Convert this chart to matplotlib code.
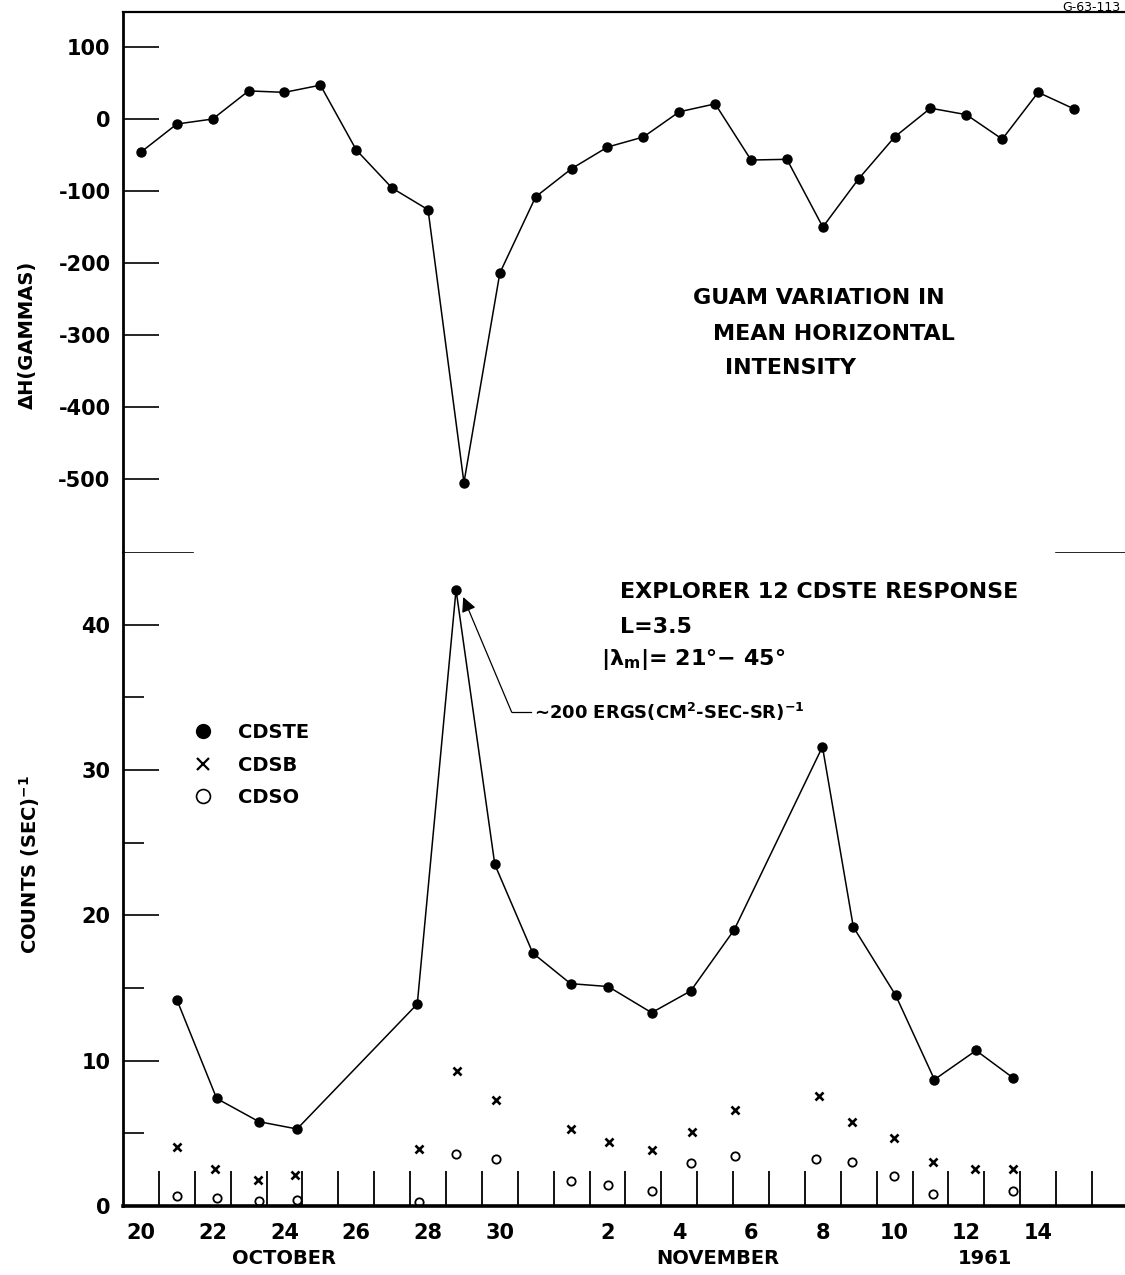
import matplotlib
matplotlib.use('Agg')
import matplotlib.pyplot as plt
from matplotlib.lines import Line2D
from matplotlib.transforms import blended_transform_factory

plt.rcParams['font.family'] = ['DejaVu Sans']
plt.rcParams['font.weight'] = 'bold'
plt.rcParams['mathtext.default'] = 'bf'

# ---- data (day numbers: Oct 20 = 20, Nov 1 = 32) ----
guam_days = list(range(20, 47))
guam_dH = [-46, -7, 0, 39, 37, 47, -43, -96, -126, -505, -214, -108, -69, -39,
           -25, 10, 21, -57, -56, -150, -83, -25, 15, 6, -28, 37, 14]

cdste_t = [21.0, 22.11, 23.29, 24.35, 27.70, 28.78, 29.86, 30.92, 31.97, 33.02,
           34.23, 35.32, 36.53, 38.99, 39.85, 41.03, 42.11, 43.27, 44.31]
cdste_v = [14.2, 7.4, 5.8, 5.3, 13.9, 42.4, 23.5, 17.4, 15.3, 15.1,
           13.3, 14.8, 19.0, 31.6, 19.2, 14.5, 8.7, 10.7, 8.8]

cdsb_t = [21.0, 22.07, 23.27, 24.29, 27.75, 28.80, 29.88, 31.97, 33.04, 34.23,
          35.35, 36.55, 38.88, 39.82, 40.97, 42.08, 43.24, 44.29]
cdsb_v = [4.05, 2.55, 1.8, 2.1, 3.9, 9.3, 7.3, 5.3, 4.4, 3.85,
          5.1, 6.6, 7.6, 5.8, 4.7, 3.0, 2.55, 2.55]

cdso_t = [21.0, 22.11, 23.29, 24.35, 27.75, 28.78, 29.88, 31.97, 33.02, 34.23,
          35.32, 36.55, 38.82, 39.82, 40.97, 42.08, 44.29]
cdso_v = [0.7, 0.55, 0.35, 0.4, 0.25, 3.6, 3.25, 1.7, 1.45, 1.0,
          2.95, 3.45, 3.25, 3.0, 2.05, 0.8, 1.05]

day_label_pos = [20, 22, 24, 26, 28, 30, 33, 35, 37, 39, 41, 43, 45]
day_labels = ['20', '22', '24', '26', '28', '30', '2', '4', '6', '8', '10', '12', '14']
day_boundaries = [20.5 + i for i in range(27)]

dH_ticks = [100, 0, -100, -200, -300, -400, -500]
count_ticks = [0, 10, 20, 30, 40]
count_minor = [5, 15, 25, 35]

W, H = 1125, 1275
fig = plt.figure(figsize=(W / 100, H / 100), dpi=100)
left = 123 / W
ax1 = fig.add_axes([left, 1 - 552 / H, 1 - left, (552 - 12) / H])
ax2 = fig.add_axes([left, 1 - 1206 / H, 1 - left, (1206 - 552) / H])

XL = (19.5, 47.42)

# ---- top panel ----
ax1.plot(guam_days, guam_dH, color='black', lw=1.1, marker='o', ms=6.5, clip_on=False)
ax1.set_xlim(*XL)
ax1.set_ylim(-601.4, 148.6)
ax1.spines['right'].set_visible(False)
ax1.spines['bottom'].set_visible(False)
ax1.spines['top'].set_linewidth(1.6)
ax1.spines['left'].set_linewidth(2.0)
ax1.set_xticks([])
ax1.set_yticks(dH_ticks)
ax1.set_yticklabels([str(v) for v in dH_ticks])
ax1.tick_params(axis='y', direction='in', length=26, width=1.2, pad=9, labelsize=15)

ax1.text(35.38, -248.6, 'GUAM VARIATION IN', fontsize=16, ha='left', va='center')
ax1.text(35.94, -298.6, 'MEAN HORIZONTAL', fontsize=16, ha='left', va='center')
ax1.text(36.27, -345.8, 'INTENSITY', fontsize=16, ha='left', va='center')

# ---- bottom panel ----
ax2.plot(cdste_t, cdste_v, color='black', lw=1.1, marker='o', ms=6.5)
ax2.plot(cdsb_t, cdsb_v, ls='none', marker='x', ms=6, mew=1.9, color='black')
ax2.plot(cdso_t, cdso_v, ls='none', marker='o', ms=6, mew=1.3,
         markerfacecolor='white', markeredgecolor='black')
ax2.set_xlim(*XL)
ax2.set_ylim(0, 45)
ax2.spines['right'].set_visible(False)
ax2.spines['top'].set_visible(False)
ax2.spines['bottom'].set_linewidth(2.6)
ax2.spines['left'].set_linewidth(2.0)

ax2.set_yticks(count_ticks)
ax2.set_yticklabels([str(v) for v in count_ticks])
ax2.set_yticks(count_minor, minor=True)
ax2.tick_params(axis='y', which='major', direction='in', length=26, width=1.2, pad=9, labelsize=15)
ax2.tick_params(axis='y', which='minor', direction='in', length=15, width=1.2)
ax2.axhline(45, xmin=0, xmax=70 / 1002, color='black', lw=1.2)
ax2.axhline(45, xmin=(1056 - 123) / 1002, xmax=1, color='black', lw=1.2)

ax2.set_xticks(day_boundaries)
ax2.set_xticklabels([''] * len(day_boundaries))
ax2.set_xticks(day_label_pos, minor=True)
ax2.set_xticklabels(day_labels, minor=True)
ax2.tick_params(axis='x', which='major', direction='in', length=25, width=1.3)
ax2.tick_params(axis='x', which='minor', length=0, pad=12, labelsize=15)

trans = blended_transform_factory(ax2.transData, ax2.transAxes)
ax2.text(24.0, -0.08, 'OCTOBER', transform=trans, fontsize=14, ha='center', va='center')
ax2.text(36.08, -0.08, 'NOVEMBER', transform=trans, fontsize=14, ha='center', va='center')
ax2.text(43.52, -0.08, '1961', transform=trans, fontsize=14, ha='center', va='center')

ax2.text(33.35, 42.28, 'EXPLORER 12 CDSTE RESPONSE', fontsize=16, ha='left', va='center')
ax2.text(33.35, 39.86, 'L=3.5', fontsize=16, ha='left', va='center')
ax2.text(32.82, 37.59, '|λ$_{m}$|= 21°− 45°', fontsize=16, ha='left', va='center')

# annotation arrow to the peak
peak_i = cdste_v.index(max(cdste_v))
ax2.plot([30.33, 30.88], [33.98, 33.98], color='black', lw=0.9)
ax2.annotate('', xy=(cdste_t[peak_i] + 0.2, cdste_v[peak_i] - 0.5), xytext=(30.33, 33.98),
             arrowprops=dict(arrowstyle='-|>', color='black', lw=0.9,
                             mutation_scale=22, shrinkA=0, shrinkB=0))
ax2.text(30.95, 33.98, '∼200 ERGS(CM$^{2}$-SEC-SR)$^{-1}$', fontsize=13, ha='left', va='center')

# legend
handles = [Line2D([], [], ls='none', marker='o', ms=10, color='black'),
           Line2D([], [], ls='none', marker='x', ms=8, mew=1.6, color='black'),
           Line2D([], [], ls='none', marker='o', ms=10, mew=1.2,
                  markerfacecolor='white', markeredgecolor='black')]
ax2.legend(handles, ['CDSTE', 'CDSB', 'CDSO'], loc='upper left',
           bbox_to_anchor=(0.0699, 0.7385), frameon=False, fontsize=14,
           handlelength=1.0, handletextpad=1.3, labelspacing=0.7,
           borderpad=0, borderaxespad=0)

# axis titles
fig.text(27 / W, 1 - 335 / H, 'ΔH(GAMMAS)', rotation=90, ha='center', va='center', fontsize=14)
fig.text(30 / W, 1 - 865 / H, 'COUNTS (SEC)$^{-1}$', rotation=90, ha='center', va='center', fontsize=14)

fig.text(1120 / W, 1 - 1 / H, 'G-63-113', fontsize=9, ha='right', va='top', fontweight='normal')

fig.savefig('out.png', dpi=100)
